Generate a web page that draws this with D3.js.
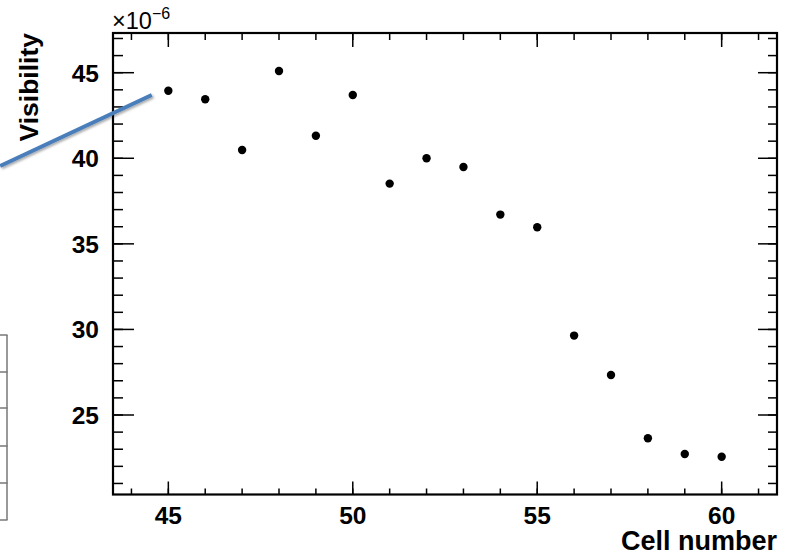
<!DOCTYPE html>
<html>
<head>
<meta charset="utf-8">
<script src="https://cdn.jsdelivr.net/npm/d3@7"></script>
<style>
  body { margin: 0; background: #fff; }
  svg { display: block; font-family: "Liberation Sans", Arial, sans-serif; font-weight: bold; }
</style>
</head>
<body>
<div id="vis"></div>
<script>
const WIDTH = 786;
const HEIGHT = 556;
const MARGINS = {left: 113, right: 9, top: 33, bottom: 61.5};

// data
const CELLS = [45, 46, 47, 48, 49, 50, 51, 52, 53, 54, 55, 56, 57, 58, 59, 60];
const VISIBILITY = [43.95, 43.45, 40.48, 45.1, 41.32, 43.7, 38.52, 40.0, 39.49, 36.71, 35.97, 29.64, 27.34, 23.64, 22.72, 22.56];
const X_TICKS = [45, 50, 55, 60];
const Y_TICKS = [25, 30, 35, 40, 45];
const X_MINOR = d3.range(44, 62, 1);
const Y_MINOR = d3.range(21, 48, 1);
// blue annotation line (in data units)
const ARROW = [[40.44, 39.55], [44.55, 43.7]];

const svg = d3.select("#vis").append("svg")
  .attr("width", WIDTH)
  .attr("height", HEIGHT);

const X_SCALE = d3.scaleLinear()
  .domain([43.5, 61.5])
  .range([MARGINS.left, WIDTH - MARGINS.right]);

const Y_SCALE = d3.scaleLinear()
  .domain([20.355, 47.32])
  .range([HEIGHT - MARGINS.bottom, MARGINS.top]);

const x0 = X_SCALE.range()[0], x1 = X_SCALE.range()[1];
const y0 = Y_SCALE.range()[0], y1 = Y_SCALE.range()[1];

// partial table peeking in on the left
const tableRows = [335, 372, 408, 446, 483, 520];
svg.append("line")
  .attr("x1", 7).attr("x2", 7)
  .attr("y1", tableRows[0]).attr("y2", tableRows[tableRows.length - 1])
  .attr("stroke", "#777").attr("stroke-width", 1.5);
svg.selectAll(".trow")
  .data(tableRows)
  .enter().append("line")
  .attr("x1", 0).attr("x2", 7.5)
  .attr("y1", d => d).attr("y2", d => d)
  .attr("stroke", "#777").attr("stroke-width", 1.5);

// ticks
function ticks(vals, scale, horiz, at, dir, len, w) {
  svg.selectAll(null)
    .data(vals.filter(v => { const p = scale(v); return horiz ? (p > x0 + 1 && p < x1 - 1) : (p < y0 - 1 && p > y1 + 1); }))
    .enter().append("line")
    .attr("x1", d => horiz ? scale(d) : at)
    .attr("x2", d => horiz ? scale(d) : at + dir * len)
    .attr("y1", d => horiz ? at : scale(d))
    .attr("y2", d => horiz ? at + dir * len : scale(d))
    .attr("stroke", "#000")
    .attr("stroke-width", w);
}
// bottom / top
ticks(X_MINOR, X_SCALE, true, y0, -1, 6, 1.5);
ticks(X_TICKS, X_SCALE, true, y0, -1, 13, 1.5);
ticks(X_MINOR, X_SCALE, true, y1, 1, 7, 1.5);
ticks(X_TICKS, X_SCALE, true, y1, 1, 14, 1.5);
// left / right
ticks(Y_MINOR, Y_SCALE, false, x0, 1, 10, 1.5);
ticks(Y_TICKS, Y_SCALE, false, x0, 1, 21, 1.5);
ticks(Y_MINOR, Y_SCALE, false, x1, -1, 9, 1.5);
ticks(Y_TICKS, Y_SCALE, false, x1, -1, 19, 1.5);

// frame
svg.append("rect")
  .attr("x", x0).attr("y", y1)
  .attr("width", x1 - x0).attr("height", y0 - y1)
  .attr("fill", "none")
  .attr("stroke", "#000")
  .attr("stroke-width", 2.2);

// tick labels
svg.selectAll(".xlab")
  .data(X_TICKS)
  .enter().append("text")
  .attr("x", d => X_SCALE(d))
  .attr("y", 524)
  .attr("text-anchor", "middle")
  .attr("font-size", 24.5)
  .text(d => d);

svg.selectAll(".ylab")
  .data(Y_TICKS)
  .enter().append("text")
  .attr("x", 99)
  .attr("y", d => Y_SCALE(d) + 8.8)
  .attr("text-anchor", "end")
  .attr("font-size", 24.5)
  .text(d => d);

// exponent
const expo = svg.append("text")
  .attr("x", 112)
  .attr("y", 29)
  .attr("font-size", 23.5)
  .attr("font-weight", "normal");
expo.append("tspan").text("\u00d710");
expo.append("tspan").attr("dy", -10).attr("font-size", 16).text("\u22126");

// axis titles
svg.append("text")
  .attr("x", 777)
  .attr("y", 550)
  .attr("text-anchor", "end")
  .attr("font-size", 27)
  .text("Cell number");

svg.append("text")
  .attr("transform", "translate(38," + y1 + ") rotate(-90)")
  .attr("text-anchor", "end")
  .attr("font-size", 26.5)
  .text("Visibility");

// points
const data = CELLS.map((c, i) => ({x: c, y: VISIBILITY[i]}));
svg.selectAll(".point")
  .data(data)
  .enter().append("circle")
  .attr("class", "point")
  .attr("cx", d => X_SCALE(d.x))
  .attr("cy", d => Y_SCALE(d.y))
  .attr("r", 4.2)
  .attr("fill", "#000");

// blue annotation line with a soft shadow
const defs = svg.append("defs");
const f = defs.append("filter").attr("id", "shadow").attr("x", "-10%").attr("y", "-50%").attr("width", "130%").attr("height", "200%");
f.append("feDropShadow").attr("dx", 1.5).attr("dy", 1.5).attr("stdDeviation", 1.2).attr("flood-color", "#000").attr("flood-opacity", 0.35);

svg.append("line")
  .attr("x1", X_SCALE(ARROW[0][0])).attr("y1", Y_SCALE(ARROW[0][1]))
  .attr("x2", X_SCALE(ARROW[1][0])).attr("y2", Y_SCALE(ARROW[1][1]))
  .attr("stroke", "#4a7ebb")
  .attr("stroke-width", 4)
  .attr("filter", "url(#shadow)");
</script>
</body>
</html>
